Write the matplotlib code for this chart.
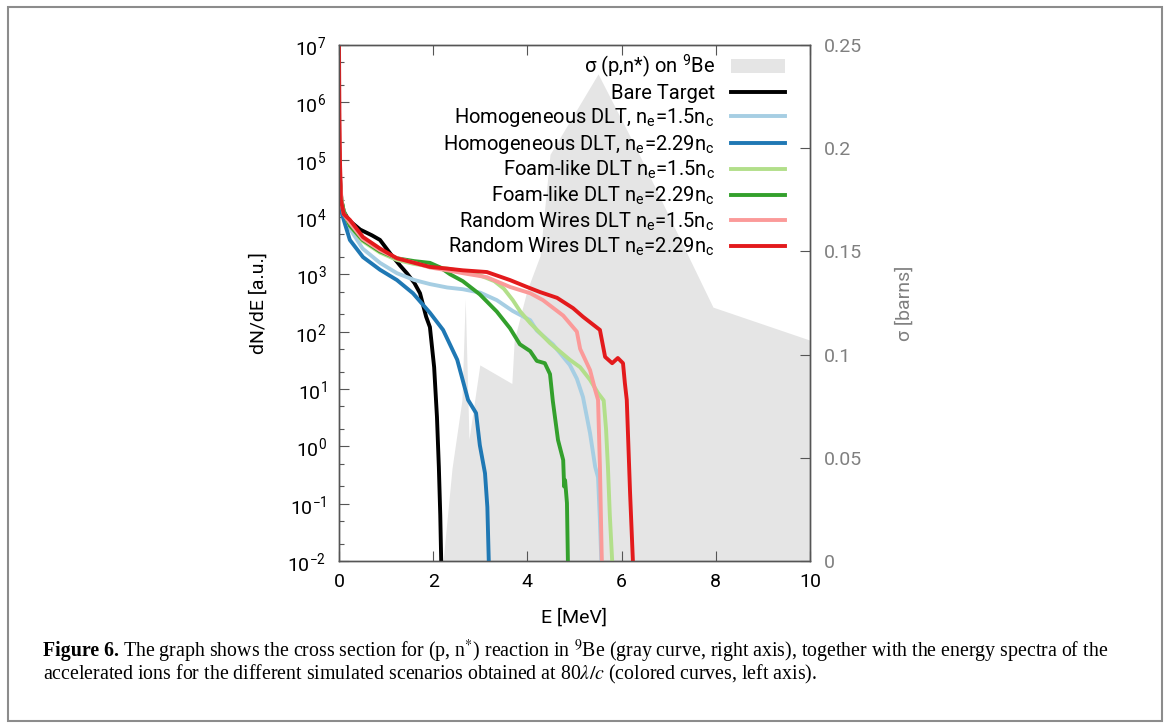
import numpy as np
import matplotlib.pyplot as plt
from matplotlib.patches import Patch, Rectangle
from matplotlib.ticker import LogLocator, NullFormatter, NullLocator

plt.rcParams['font.family'] = ['Roboto', 'DejaVu Sans']
plt.rcParams['mathtext.fontset'] = 'custom'
plt.rcParams['mathtext.rm'] = 'Roboto'
plt.rcParams['mathtext.it'] = 'Roboto:italic'
plt.rcParams['mathtext.bf'] = 'Roboto:bold'
plt.rcParams['axes.unicode_minus'] = False

# cross section (p,n*) on 9Be, right axis [barns]
sig_E = [2.21, 2.4, 2.61, 2.68, 2.76, 2.99, 3.67, 3.72, 3.99, 4.27, 4.48, 5.50, 6.33, 7.24, 7.94, 10.0]
sig_val = [0, 0.045, 0.078, 0.127, 0.059, 0.095, 0.086, 0.107, 0.131, 0.148, 0.197, 0.236, 0.199, 0.156, 0.123, 0.107]

# spectra, log10(dN/dE)
bare_E = [0, 0.02, 0.05, 0.1, 0.2, 0.45, 0.7, 0.87, 1.1, 1.3, 1.44, 1.6, 1.72, 1.85, 1.93, 2.02, 2.08, 2.12, 2.15, 2.17]
bare_lg = [5.3, 4.7, 4.3, 4.1, 3.95, 3.78, 3.68, 3.6, 3.35, 3.15, 3.02, 2.85, 2.67, 2.26, 2.08, 1.38, 0.51, -0.36, -1.2, -2.0]

hom15_E = [0, 0.02, 0.05, 0.1, 0.23, 0.5, 0.87, 1.23, 1.6, 1.93, 2.3, 2.63, 3.0, 3.35, 3.69, 4.06, 4.2,
           4.54, 4.9, 5.05, 5.18, 5.33, 5.44, 5.5, 5.54, 5.57]
hom15_lg = [5.0, 4.5, 4.25, 4.1, 3.8, 3.45, 3.2, 3.02, 2.9, 2.83, 2.77, 2.74, 2.68, 2.55, 2.36, 2.2, 2.02,
            1.78, 1.42, 1.18, 0.86, 0.23, -0.36, -0.54, -1.3, -2.0]

hom229_E = [0, 0.02, 0.05, 0.1, 0.23, 0.51, 0.87, 1.23, 1.57, 1.75, 1.93, 2.21, 2.51, 2.74, 2.91, 2.99, 3.1, 3.15, 3.18]
hom229_lg = [5.0, 4.4, 4.1, 3.95, 3.6, 3.3, 3.08, 2.9, 2.67, 2.5, 2.33, 2.03, 1.51, 0.81, 0.58, 0.02, -0.47, -1.06, -2.0]

foam15_E = [0, 0.02, 0.05, 0.1, 0.23, 0.5, 0.87, 1.23, 1.6, 1.93, 2.3, 2.63, 3.0, 3.3, 3.5, 3.69, 3.85, 4.06,
            4.48, 4.9, 5.12, 5.33, 5.5, 5.62, 5.67, 5.71, 5.75, 5.8]
foam15_lg = [5.2, 4.6, 4.3, 4.1, 3.85, 3.58, 3.38, 3.25, 3.18, 3.14, 3.1, 3.05, 2.98, 2.88, 2.75, 2.55, 2.35, 2.15,
             1.8, 1.51, 1.38, 1.16, 0.93, 0.8, 0.3, -0.36, -1.2, -2.0]

foam229_E = [0, 0.02, 0.05, 0.1, 0.23, 0.5, 0.87, 1.23, 1.6, 1.93, 2.15, 2.36, 2.63, 2.99, 3.35, 3.63, 3.84, 4.06,
             4.2, 4.37, 4.48, 4.54, 4.65, 4.76, 4.78, 4.8, 4.84, 4.86]
foam229_lg = [5.3, 4.6, 4.3, 4.1, 3.85, 3.6, 3.4, 3.28, 3.23, 3.2, 3.12, 3.0, 2.88, 2.65, 2.35, 2.06, 1.78, 1.66,
              1.49, 1.45, 1.26, 0.79, 0.11, -0.24, -0.7, -0.59, -0.99, -2.0]

rw15_E = [0, 0.01, 0.03, 0.06, 0.1, 0.23, 0.5, 0.87, 1.23, 1.6, 1.93, 2.3, 2.63, 3.14, 3.63, 4.06, 4.33, 4.76,
          5.05, 5.12, 5.33, 5.44, 5.5, 5.54, 5.58]
rw15_lg = [5.9, 5.3, 4.6, 4.2, 4.05, 3.9, 3.62, 3.42, 3.28, 3.2, 3.12, 3.07, 3.02, 2.95, 2.78, 2.67, 2.55, 2.28,
           2.0, 1.7, 1.33, 0.98, 0.81, -0.36, -2.0]

rw229_E = [0, 0.005, 0.01, 0.02, 0.04, 0.1, 0.23, 0.51, 0.87, 1.23, 1.6, 1.93, 2.3, 2.63, 3.14, 3.63, 3.99, 4.27,
           4.63, 4.97, 5.18, 5.54, 5.65, 5.8, 5.92, 6.03, 6.07, 6.11, 6.18, 6.24]
rw229_lg = [7.0, 6.3, 5.7, 5.0, 4.3, 4.05, 3.95, 3.65, 3.45, 3.28, 3.2, 3.13, 3.1, 3.07, 3.04, 2.9, 2.78, 2.69,
            2.59, 2.41, 2.26, 2.03, 1.56, 1.45, 1.54, 1.45, 1.10, 0.81, -0.81, -2.0]

series = [
    (bare_E, bare_lg, '#000000', 'Bare Target'),
    (hom15_E, hom15_lg, '#a6cee3', 'Homogeneous DLT, n$_\\mathrm{e}$=1.5n$_\\mathrm{c}$'),
    (hom229_E, hom229_lg, '#1f78b4', 'Homogeneous DLT, n$_\\mathrm{e}$=2.29n$_\\mathrm{c}$'),
    (foam15_E, foam15_lg, '#b2df8a', 'Foam-like DLT n$_\\mathrm{e}$=1.5n$_\\mathrm{c}$'),
    (foam229_E, foam229_lg, '#33a02c', 'Foam-like DLT n$_\\mathrm{e}$=2.29n$_\\mathrm{c}$'),
    (rw15_E, rw15_lg, '#fb9a99', 'Random Wires DLT n$_\\mathrm{e}$=1.5n$_\\mathrm{c}$'),
    (rw229_E, rw229_lg, '#e31a1c', 'Random Wires DLT n$_\\mathrm{e}$=2.29n$_\\mathrm{c}$'),
]

fig = plt.figure(figsize=(11.71, 7.28), dpi=100)
ax = fig.add_axes([0.2895, 0.2294, 0.4022, 0.7088])
ax2 = ax.twinx()

gray = '#e5e5e5'
ax2.fill_between(sig_E, 0, sig_val, color=gray, lw=0)
ax2.set_ylim(0, 0.25)
ax2.set_yticks([0, 0.05, 0.1, 0.15, 0.2, 0.25])
ax2.set_yticklabels(['0', '0.05', '0.1', '0.15', '0.2', '0.25'])
ax2.tick_params(direction='in', length=7, width=0.8, color='#555555',
                labelcolor='#808080', labelsize=14, pad=10)
ax2.set_ylabel('σ [barns]', color='#808080', fontsize=14, labelpad=24)

ax.set_zorder(ax2.get_zorder() + 1)
ax.patch.set_visible(False)

handles = [Patch(facecolor=gray, edgecolor='none')]
labels = ['σ (p,n*) on $^\\mathrm{9}$Be']
for E, lg, col, lab in series:
    ln, = ax.plot(E, 10.0 ** np.array(lg), color=col, lw=2.8)
    handles.append(ln)
    labels.append(lab)

ax.set_yscale('log')
ax.set_xlim(0, 10)
ax.set_ylim(1e-2, 1e7)
ax.set_xticks([0, 2, 4, 6, 8, 10])
ax.xaxis.set_minor_locator(NullLocator())
ax.yaxis.set_major_locator(LogLocator(base=10, numticks=20))
ax.yaxis.set_minor_locator(LogLocator(base=10, subs=(2, 5), numticks=20))
ax.yaxis.set_minor_formatter(NullFormatter())
ax.tick_params(which='both', direction='in', top=True, right=False, color='#555555')
ax.tick_params(which='major', length=7, width=0.8, labelsize=14, pad=9)
ax.tick_params(which='minor', length=3.5, width=0.8)
for a in (ax, ax2):
    for s in a.spines.values():
        s.set_color('#555555')
        s.set_linewidth(1.0)

ax.set_xlabel('E [MeV]', fontsize=14, labelpad=12)
ax.set_ylabel('dN/dE [a.u.]', fontsize=14, labelpad=14)

ax.legend(handles, labels, loc='upper right', bbox_to_anchor=(0.947, 0.985),
          markerfirst=False, frameon=False, fontsize=14.5, handlelength=2.7,
          handletextpad=0.8, labelspacing=0.17, borderaxespad=0, borderpad=0)

# outer frame
fig.patches.append(Rectangle((8 / 1171, 1 - 721 / 728), 1154 / 1171, 714 / 728,
                             transform=fig.transFigure, fill=False,
                             edgecolor='#8c8c8c', lw=1.5))

# caption
cap_x = 43 / 1171
y1 = 1 - 651 / 728
y2 = 1 - 674 / 728
cap_size = 14.3
t_bold = fig.text(cap_x, y1, 'Figure 6.', fontfamily='Liberation Serif', fontweight='bold',
                  fontsize=cap_size, va='center')
r = fig.canvas.get_renderer()
bb = t_bold.get_window_extent(r)
fig.text((bb.x1 + 4) / 1171, y1,
         'The graph shows the cross section for (p, n$^{*}$) reaction in $^{9}$Be (gray curve, right axis), '
         'together with the energy spectra of the',
         fontfamily='Liberation Serif', math_fontfamily='stix', fontsize=cap_size, va='center')
fig.text(cap_x, y2,
         'accelerated ions for the different simulated scenarios obtained at 80$\\lambda/c$ '
         '(colored curves, left axis).',
         fontfamily='Liberation Serif', math_fontfamily='stix', fontsize=cap_size, va='center')

fig.savefig('out.png', dpi=100)
